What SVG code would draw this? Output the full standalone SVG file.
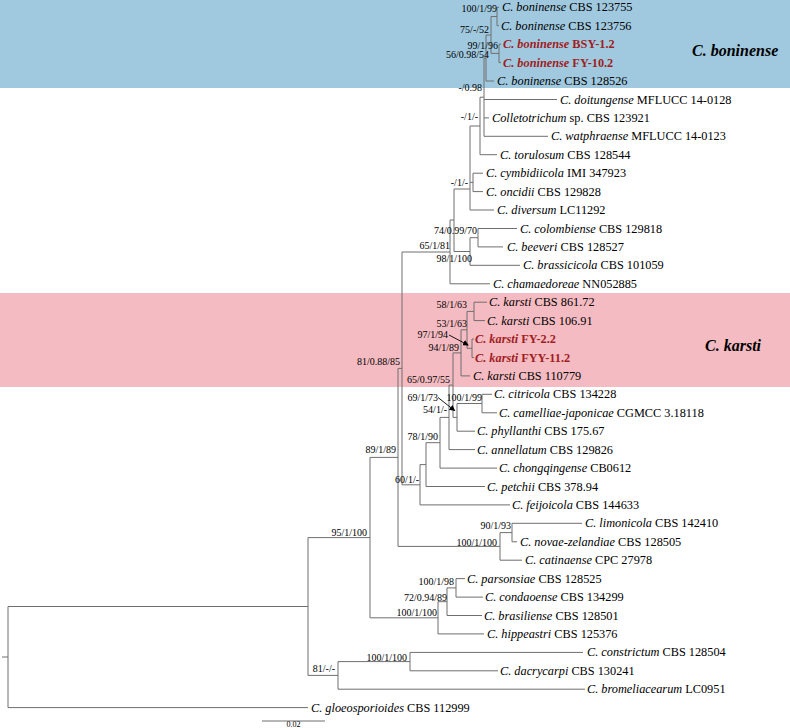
<svg xmlns="http://www.w3.org/2000/svg" width="790" height="728" viewBox="0 0 790 728">
<style>
.t{font-family:"Liberation Serif",serif;font-size:12.3px;fill:#000}
.i{font-style:italic}
.r{fill:#a01d22;font-weight:bold}
.s{font-family:"Liberation Serif",serif;font-size:10px;fill:#000;text-anchor:end}
.c{font-family:"Liberation Serif",serif;font-size:16px;font-weight:bold;font-style:italic;fill:#000}
.ln{stroke:#6f6f6f;stroke-width:1;fill:none}
.ar{stroke:#000;stroke-width:0.9;fill:none}
</style>
<defs>
<marker id="ah" markerWidth="6" markerHeight="6" refX="5" refY="3" orient="auto" markerUnits="userSpaceOnUse">
<path d="M0,0 L6,3 L0,6 Z" fill="#000"/>
</marker>
</defs>
<rect x="0" y="0" width="790" height="88" fill="#a0c9df"/>
<rect x="0" y="293" width="790" height="94" fill="#f5bbc2"/>
<g id="connectors" class="ln">
<path d="M2,657 H8 M8,606.5 V707.6 M8,606.5 H308 M8,707.6 H308"/>
<path d="M308,537.6 V675.4 M308,537.6 H370 M308,675.4 H338"/>
<path d="M338,661.6 V689.2 M338,661.6 H410 M338,689.2 H585"/>
<path d="M410,652.4 V670.8 M410,652.4 H583 M410,670.8 H498"/>
<path d="M370,457.4 V617.8 M370,457.4 H398 M370,617.8 H438"/>
<path d="M438,601.7 V633.9 M438,601.7 H447 M438,633.9 H484"/>
<path d="M447,587.9 V615.5 M447,587.9 H456 M447,615.5 H482"/>
<path d="M456,578.6 V597.1 M456,578.6 H465 M456,597.1 H483"/>
<path d="M398,368.4 V546.4 M398,368.4 H402 M398,546.4 H500"/>
<path d="M500,532.6 V560.2 M500,532.6 H512 M500,560.2 H522"/>
<path d="M512,523.3 V541.8 M512,523.3 H582 M512,541.8 H517"/>
<path d="M402,252 V484.8 M402,252 H450 M402,484.8 H420"/>
<path d="M420,464.6 V504.9 M420,464.6 H426 M420,504.9 H510"/>
<path d="M426,442.7 V486.5 M426,442.7 H440 M426,486.5 H485"/>
<path d="M440,417.4 V468.1 M440,417.4 H449 M440,468.1 H497"/>
<path d="M449,385.1 V449.6 M449,385.1 H453 M449,449.6 H475"/>
<path d="M453,352.9 V417.4 M453,352.9 H461 M453,417.4 H457"/>
<path d="M457,403.5 V431.2 M457,403.5 H482 M457,431.2 H475"/>
<path d="M482,394.3 V412.8 M482,394.3 H492 M482,412.8 H497"/>
<path d="M461,329.8 V375.9 M461,329.8 H467 M461,375.9 H470"/>
<path d="M467,311.4 V348.3 M467,311.4 H474 M467,348.3 H472"/>
<path d="M474,302.2 V320.6 M474,302.2 H487 M474,320.6 H485"/>
<path d="M472,339 V357.5 M472,339 H474 M472,357.5 H474"/>
<path d="M450,220 V283.8 M450,220 H454 M450,283.8 H490"/>
<path d="M454,189 V251.5 M454,189 H470 M454,251.5 H470"/>
<path d="M470,237.7 V265.3 M470,237.7 H478 M470,265.3 H520"/>
<path d="M478,228.5 V246.9 M478,228.5 H517 M478,246.9 H503"/>
<path d="M470,126 V210 M470,126 H480 M470,182.4 H473 M470,210 H494"/>
<path d="M473,173.2 V191.6 M473,173.2 H483 M473,191.6 H483"/>
<path d="M480,97.2 V154.7 M480,97.2 H484 M480,154.7 H497"/>
<path d="M484,58 V136.3 M484,58 H486 M484,99.5 H557 M484,117.9 H489 M484,136.3 H548"/>
<path d="M486,35 V81 M486,35 H491 M486,81 H494"/>
<path d="M491,16.5 V53.4 M491,16.5 H497 M491,53.4 H499"/>
<path d="M497,7.3 V25.7 M497,7.3 H499 M497,25.7 H499"/>
<path d="M499,44.2 V62.6 M499,44.2 H501 M499,62.6 H501"/>
<path class="ar" d="M449,335 L468,345" marker-end="url(#ah)"/>
<path class="ar" d="M438,397.5 L454.5,410.5" marker-end="url(#ah)"/>
<path d="M262,721 H325"/>
</g>
<g id="leaves">
<g id="leaf1"><text class="t" x="502" y="11.3"><tspan class="i">C. boninense</tspan> CBS 123755</text></g>
<g id="leaf2"><text class="t" x="501" y="29.7"><tspan class="i">C. boninense</tspan> CBS 123756</text></g>
<g id="leaf3"><text class="t r" x="503" y="48.2"><tspan class="i">C. boninense</tspan> BSY-1.2</text></g>
<g id="leaf4"><text class="t r" x="503" y="66.6"><tspan class="i">C. boninense</tspan> FY-10.2</text></g>
<g id="leaf5"><text class="t" x="497" y="85"><tspan class="i">C. boninense</tspan> CBS 128526</text></g>
<g id="leaf6"><text class="t" x="560" y="103.5"><tspan class="i">C. doitungense</tspan> MFLUCC 14-0128</text></g>
<g id="leaf7"><text class="t" x="492" y="121.9"><tspan class="i">Colletotrichum</tspan> sp. CBS 123921</text></g>
<g id="leaf8"><text class="t" x="551" y="140.3"><tspan class="i">C. watphraense</tspan> MFLUCC 14-0123</text></g>
<g id="leaf9"><text class="t" x="500" y="158.7"><tspan class="i">C. torulosum</tspan> CBS 128544</text></g>
<g id="leaf10"><text class="t" x="486" y="177.2"><tspan class="i">C. cymbidiicola</tspan> IMI 347923</text></g>
<g id="leaf11"><text class="t" x="486" y="195.6"><tspan class="i">C. oncidii</tspan> CBS 129828</text></g>
<g id="leaf12"><text class="t" x="497" y="214"><tspan class="i">C. diversum</tspan> LC11292</text></g>
<g id="leaf13"><text class="t" x="520" y="232.5"><tspan class="i">C. colombiense</tspan> CBS 129818</text></g>
<g id="leaf14"><text class="t" x="507" y="250.9"><tspan class="i">C. beeveri</tspan> CBS 128527</text></g>
<g id="leaf15"><text class="t" x="523" y="269.3"><tspan class="i">C. brassicicola</tspan> CBS 101059</text></g>
<g id="leaf16"><text class="t" x="493" y="287.8"><tspan class="i">C. chamaedoreae</tspan> NN052885</text></g>
<g id="leaf17"><text class="t" x="489" y="306.2"><tspan class="i">C. karsti</tspan> CBS 861.72</text></g>
<g id="leaf18"><text class="t" x="487" y="324.6"><tspan class="i">C. karsti</tspan> CBS 106.91</text></g>
<g id="leaf19"><text class="t r" x="475" y="343"><tspan class="i">C. karsti</tspan> FY-2.2</text></g>
<g id="leaf20"><text class="t r" x="475" y="361.5"><tspan class="i">C. karsti</tspan> FYY-11.2</text></g>
<g id="leaf21"><text class="t" x="473" y="379.9"><tspan class="i">C. karsti</tspan> CBS 110779</text></g>
<g id="leaf22"><text class="t" x="494" y="398.3"><tspan class="i">C. citricola</tspan> CBS 134228</text></g>
<g id="leaf23"><text class="t" x="499" y="416.8"><tspan class="i">C. camelliae-japonicae</tspan> CGMCC 3.18118</text></g>
<g id="leaf24"><text class="t" x="477" y="435.2"><tspan class="i">C. phyllanthi</tspan> CBS 175.67</text></g>
<g id="leaf25"><text class="t" x="477" y="453.6"><tspan class="i">C. annellatum</tspan> CBS 129826</text></g>
<g id="leaf26"><text class="t" x="499" y="472.1"><tspan class="i">C. chongqingense</tspan> CB0612</text></g>
<g id="leaf27"><text class="t" x="487" y="490.5"><tspan class="i">C. petchii</tspan> CBS 378.94</text></g>
<g id="leaf28"><text class="t" x="512" y="508.9"><tspan class="i">C. feijoicola</tspan> CBS 144633</text></g>
<g id="leaf29"><text class="t" x="585" y="527.3"><tspan class="i">C. limonicola</tspan> CBS 142410</text></g>
<g id="leaf30"><text class="t" x="520" y="545.8"><tspan class="i">C. novae-zelandiae</tspan> CBS 128505</text></g>
<g id="leaf31"><text class="t" x="525" y="564.2"><tspan class="i">C. catinaense</tspan> CPC 27978</text></g>
<g id="leaf32"><text class="t" x="467" y="582.6"><tspan class="i">C. parsonsiae</tspan> CBS 128525</text></g>
<g id="leaf33"><text class="t" x="485" y="601.1"><tspan class="i">C. condaoense</tspan> CBS 134299</text></g>
<g id="leaf34"><text class="t" x="484" y="619.5"><tspan class="i">C. brasiliense</tspan> CBS 128501</text></g>
<g id="leaf35"><text class="t" x="487" y="637.9"><tspan class="i">C. hippeastri</tspan> CBS 125376</text></g>
<g id="leaf36"><text class="t" x="587" y="656.4"><tspan class="i">C. constrictum</tspan> CBS 128504</text></g>
<g id="leaf37"><text class="t" x="500" y="674.8"><tspan class="i">C. dacrycarpi</tspan> CBS 130241</text></g>
<g id="leaf38"><text class="t" x="587" y="693.2"><tspan class="i">C. bromeliacearum</tspan> LC0951</text></g>
<g id="leaf39"><text class="t" x="311" y="711.6"><tspan class="i">C. gloeosporioides</tspan> CBS 112999</text></g>
</g>
<g id="supports">
<g id="n1"><text class="s" x="497" y="11.5">100/1/99</text></g>
<g id="n2"><text class="s" x="489" y="32.5">75/-/52</text></g>
<g id="n3"><text class="s" x="498" y="48.5">99/1/96</text></g>
<g id="n4"><text class="s" x="489" y="57.5">56/0.98/54</text></g>
<g id="n5"><text class="s" x="482" y="90.5">-/0.98</text></g>
<g id="n6"><text class="s" x="478" y="119.5">-/1/-</text></g>
<g id="n7"><text class="s" x="468" y="185.5">-/1/-</text></g>
<g id="n8"><text class="s" x="477" y="233.5">74/0.99/70</text></g>
<g id="n9"><text class="s" x="450" y="248.5">65/1/81</text></g>
<g id="n10"><text class="s" x="472" y="261.5">98/1/100</text></g>
<g id="n11"><text class="s" x="467" y="307.5">58/1/63</text></g>
<g id="n12"><text class="s" x="467" y="326.5">53/1/63</text></g>
<g id="n13"><text class="s" x="448" y="337.5">97/1/94</text></g>
<g id="n14"><text class="s" x="459" y="350.5">94/1/89</text></g>
<g id="n15"><text class="s" x="400" y="364.5">81/0.88/85</text></g>
<g id="n16"><text class="s" x="450" y="382.5">65/0.97/55</text></g>
<g id="n17"><text class="s" x="438" y="400.5">69/1/73</text></g>
<g id="n18"><text class="s" x="482" y="400.5">100/1/99</text></g>
<g id="n19"><text class="s" x="447" y="412.5">54/1/-</text></g>
<g id="n20"><text class="s" x="438" y="439.5">78/1/90</text></g>
<g id="n21"><text class="s" x="396" y="452.5">89/1/89</text></g>
<g id="n22"><text class="s" x="419" y="482.5">60/1/-</text></g>
<g id="n23"><text class="s" x="511" y="528.5">90/1/93</text></g>
<g id="n24"><text class="s" x="367" y="535.5">95/1/100</text></g>
<g id="n25"><text class="s" x="497" y="545.5">100/1/100</text></g>
<g id="n26"><text class="s" x="454" y="584.5">100/1/98</text></g>
<g id="n27"><text class="s" x="447" y="600.5">72/0.94/89</text></g>
<g id="n28"><text class="s" x="437" y="615.5">100/1/100</text></g>
<g id="n29"><text class="s" x="407" y="660.5">100/1/100</text></g>
<g id="n30"><text class="s" x="335" y="671.5">81/-/-</text></g>
</g>
<g id="clades">
<g id="clade-boninense"><text class="c" x="692" y="56">C. boninense</text></g>
<g id="clade-karsti"><text class="c" x="705" y="351">C. karsti</text></g>
</g>
<g id="scale"><text x="293.5" y="727" style="font-family:'Liberation Serif',serif;font-size:8px;text-anchor:middle">0.02</text></g>
</svg>
